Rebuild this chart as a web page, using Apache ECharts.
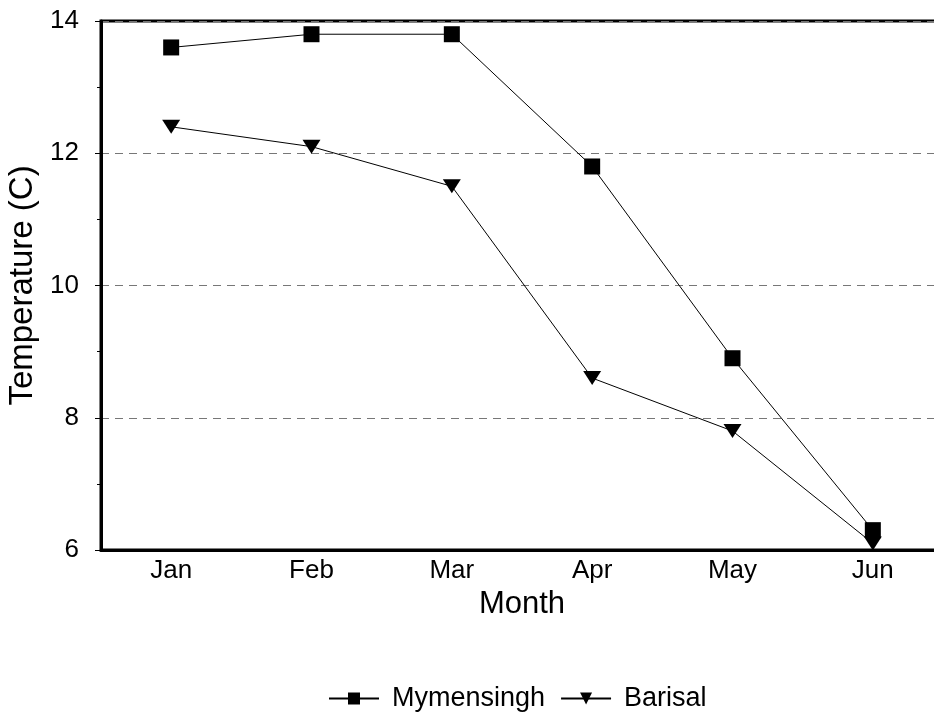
<!DOCTYPE html>
<html>
<head>
<meta charset="utf-8">
<script src="https://cdn.jsdelivr.net/npm/echarts@6/dist/echarts.min.js"></script>
<style>html,body{margin:0;padding:0;background:#fff}#c{width:934px;height:715px}</style>
</head>
<body>
<div id="c"></div>
<script>
var months = ['Jan', 'Feb', 'Mar', 'Apr', 'May', 'Jun'];
var mymensingh = [13.6, 13.8, 13.8, 11.8, 8.9, 6.3];
var barisal = [12.4, 12.1, 11.5, 8.6, 7.8, 6.1];
var yTicks = [6, 8, 10, 12, 14];

var FONT = "'Liberation Sans', Arial, sans-serif";
var chart = echarts.init(document.getElementById('c'), null, {renderer: 'canvas'});
chart.setOption({
  backgroundColor: '#fff',
  animation: false,
  grid: {left: 101, top: 21, right: -9, bottom: 165, show: true, borderWidth: 3, borderColor: '#000', backgroundColor: 'transparent', outerBoundsMode: 'none', containLabel: false},
  legend: {
    left: 323, top: 680,
    itemWidth: 50, itemHeight: 15, itemGap: 15,
    textStyle: {fontFamily: FONT, fontSize: 27, color: '#000', padding: [0, 0, 0, 8]},
    data: ['Mymensingh', 'Barisal']
  },
  xAxis: [{
    type: 'category', data: months, boundaryGap: true,
    axisLine: {lineStyle: {color: '#000', width: 3}},
    axisTick: {alignWithLabel: true, inside: true, length: 9, lineStyle: {color: '#000', width: 1}},
    axisLabel: {fontFamily: FONT, fontSize: 26, color: '#000', margin: 8},
    name: 'Month', nameLocation: 'middle', nameGap: 33,
    nameTextStyle: {fontFamily: FONT, fontSize: 31, color: '#000'}
  }, {
    type: 'category', data: months, boundaryGap: true, position: 'bottom',
    axisLine: {show: false},
    axisTick: {alignWithLabel: true, inside: false, length: 6, lineStyle: {color: '#000', width: 1}},
    axisLabel: {show: false}
  }],
  yAxis: {
    type: 'value', min: yTicks[0], max: yTicks[yTicks.length - 1], interval: 2,
    axisLine: {show: true, lineStyle: {color: '#000', width: 3}},
    axisTick: {show: true, length: 6, lineStyle: {color: '#000', width: 1}},
    minorTick: {show: true, splitNumber: 2, length: 4, lineStyle: {color: '#000', width: 1}},
    axisLabel: {fontFamily: FONT, fontSize: 26, color: '#000', margin: 22},
    splitLine: {show: true, lineStyle: {color: '#777', type: [8, 6], width: 1}},
    name: 'Temperature (C)', nameLocation: 'middle', nameGap: 59,
    nameTextStyle: {fontFamily: FONT, fontSize: 33, color: '#000'}
  },
  series: [{
    name: 'Mymensingh', type: 'line', data: mymensingh,
    symbol: 'rect', symbolSize: 16,
    lineStyle: {color: '#000', width: 1},
    itemStyle: {color: '#000'}
  }, {
    name: 'Barisal', type: 'line', data: barisal,
    symbol: 'triangle', symbolSize: [18, 14], symbolRotate: 180,
    lineStyle: {color: '#000', width: 1},
    itemStyle: {color: '#000'}
  }]
});
</script>
</body>
</html>
